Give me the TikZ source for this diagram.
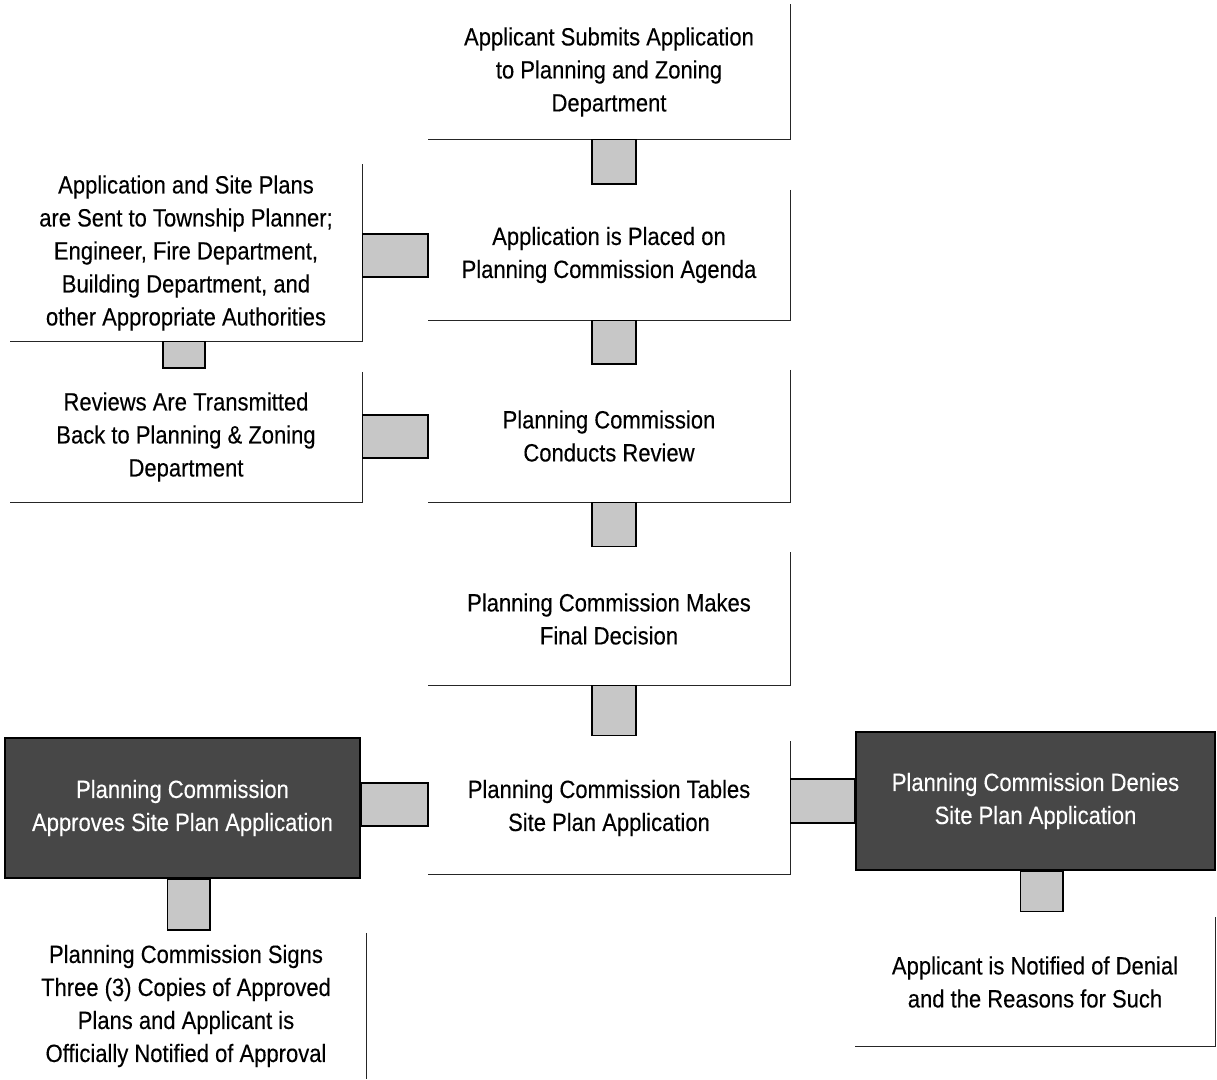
\documentclass[tikz,border=0pt]{standalone}
\usepackage{fontspec}
\setmainfont{Liberation Sans}
\newfontfamily\boxfont[FakeStretch=0.88,FakeBold=0.25]{Liberation Sans}
\usetikzlibrary{calc,positioning}

\begin{document}
\begin{tikzpicture}[x=1pt,y=-1pt,
    stepnode/.style={inner sep=0pt,align=center,font=\boxfont\fontsize{25}{33}\selectfont},
    darknode/.style={stepnode,fill=black!72,draw=black,line width=2pt,text=white},
    rim/.style={draw=black!85,line width=1.3pt},
    link/.style={fill=black!22,draw=black,line width=1.4pt}]
  \useasboundingbox (0,0) rectangle (1217,1079);

  % centre column
  \node[stepnode,minimum width=362pt,minimum height=135pt] (b1) at (609,72) {Applicant Submits Application\\to Planning and Zoning\\Department};
  \node[stepnode,minimum width=362pt,minimum height=130pt] (b2) at (609,255) {Application is Placed on\\Planning Commission Agenda};
  \node[stepnode,minimum width=362pt,minimum height=132pt] (b3) at (609,436) {Planning Commission\\Conducts Review};
  \node[stepnode,minimum width=362pt,minimum height=133pt] (b4) at (609,619) {Planning Commission Makes\\Final Decision};
  \node[stepnode,minimum width=362pt,minimum height=133pt] (b5) at (609,808) {Planning Commission Tables\\Site Plan Application};

  % left column
  \node[stepnode,minimum width=352pt,minimum height=177pt] (a1) at (186,253) {Application and Site Plans\\are Sent to Township Planner;\\Engineer, Fire Department,\\Building Department, and\\other Appropriate Authorities};
  \node[stepnode,minimum width=352pt,minimum height=130pt] (a2) at (186,437) {Reviews Are Transmitted\\Back to Planning \& Zoning\\Department};
  \node[darknode,minimum width=355pt,minimum height=140pt] (ap) at (182.5,808) {Planning Commission\\Approves Site Plan Application};
  \node[stepnode,minimum width=360pt,minimum height=146pt] (s1) at (186,1006) {Planning Commission Signs\\Three (3) Copies of Approved\\Plans and Applicant is\\Officially Notified of Approval};

  % right column
  \node[darknode,minimum width=359pt,minimum height=138pt] (dn) at (1035.5,801) {Planning Commission Denies\\Site Plan Application};
  \node[stepnode,minimum width=360pt,minimum height=129pt] (nd) at (1035,982) {Applicant is Notified of Denial\\and the Reasons for Such};

  % box edges
  \foreach \n in {b1,b2,b3,b4,b5,a1,a2,nd}
    \draw[rim] (\n.north east) -- (\n.south east) -- (\n.south west);
  \draw[rim] (s1.north east) -- (s1.south east);

  % links
  \draw[link] ($(b1.south)+(-17,0)$) rectangle ($(b2.north)+(27,-6)$);
  \draw[link] ($(b2.south)+(-17,0)$) rectangle ($(b3.north)+(27,-6)$);
  \draw[link] ($(b3.south)+(-17,0)$) rectangle ($(b4.north)+(27,-6)$);
  \draw[link] ($(b4.south)+(-17,0)$) rectangle ($(b5.north)+(27,-6)$);
  \draw[link] ($(a1.south)+(-23,0)$) rectangle ($(a2.north)+(19,-4)$);
  \draw[link] ($(a1.east |- b2.west)+(0,-21)$) rectangle ($(b2.west)+(0,22)$);
  \draw[link] ($(a2.east |- b3.west)+(0,-21)$) rectangle ($(b3.west)+(0,22)$);
  \draw[link] ($(ap.east |- b5.west)+(0,-25)$) rectangle ($(b5.west)+(0,18)$);
  \draw[link] ($(b5.east |- dn.west)+(0,-22)$) rectangle ($(dn.west)+(0,22)$);
  \draw[link] ($(ap.south)+(-15,0)$) rectangle ($(s1.north)+(24,-3)$);
  \draw[link] ($(dn.south)+(-15,0)$) rectangle ($(nd.north)+(28,-6)$);
\end{tikzpicture}
\end{document}
